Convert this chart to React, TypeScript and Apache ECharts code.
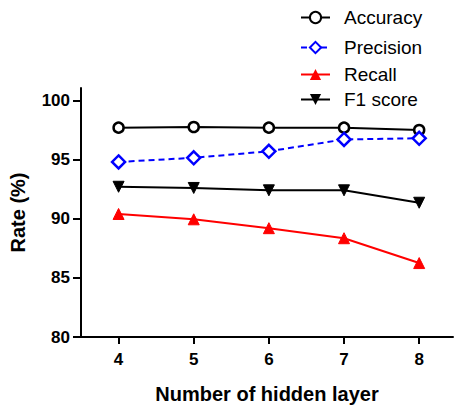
import React, { useEffect, useRef } from "react";
import * as echarts from "echarts";

const layers = [4, 5, 6, 7, 8];
const accuracy = [97.7, 97.75, 97.7, 97.7, 97.5];
const precision = [94.8, 95.15, 95.7, 96.7, 96.8];
const recall = [90.4, 89.95, 89.2, 88.35, 86.25];
const f1 = [92.7, 92.6, 92.4, 92.4, 91.35];
const yTicks = [80, 85, 90, 95, 100];
const seriesNames = ["Accuracy", "Precision", "Recall", "F1 score"];

const font = "Liberation Sans, Arial, sans-serif";

export default function App() {
  const ref = useRef<HTMLDivElement>(null);
  useEffect(() => {
    if (!ref.current) return;
    const chart = echarts.init(ref.current, undefined, { renderer: "svg" });
    const pts = (arr: number[]) => layers.map((x, i) => [x, arr[i]]);
    const legendCenters = [18, 48, 75, 100];
    const legends = seriesNames.map((n, i) => ({
      orient: "vertical",
      left: 300,
      top: legendCenters[i] - 10,
      padding: 0,
      itemWidth: 29,
      itemHeight: 14,
      selectedMode: false,
      textStyle: { fontFamily: font, fontSize: 19, color: "#000", padding: [0, 0, 0, 9] },
      data: [n],
    }));
    chart.setOption({
      animation: false,
      textStyle: { fontFamily: font, color: "#000" },
      legend: legends,
      grid: { left: 80, right: 4, top: 88, bottom: 71, containLabel: false },
      xAxis: {
        type: "value",
        min: 3.5,
        max: 8.45,
        name: "Number of hidden layer",
        nameLocation: "middle",
        nameGap: 47,
        nameTextStyle: { fontFamily: font, fontSize: 20, fontWeight: "bold", color: "#000" },
        axisLine: { show: true, lineStyle: { color: "#000", width: 2 } },
        axisTick: { show: true, length: 7, inside: false, lineStyle: { color: "#000", width: 2 }, customValues: layers },
        axisLabel: { fontFamily: font, fontSize: 17, fontWeight: "bold", color: "#000", margin: 14, customValues: layers },
        splitLine: { show: false },
      },
      yAxis: {
        type: "value",
        min: 80,
        max: 101.05,
        name: "Rate (%)",
        nameLocation: "middle",
        nameGap: 53,
        nameRotate: 90,
        nameTextStyle: { fontFamily: font, fontSize: 20, fontWeight: "bold", color: "#000" },
        axisLine: { show: true, lineStyle: { color: "#000", width: 2 } },
        axisTick: { show: true, length: 8, lineStyle: { color: "#000", width: 2 }, customValues: yTicks },
        axisLabel: { fontFamily: font, fontSize: 17, fontWeight: "bold", color: "#000", margin: 11, customValues: yTicks },
        splitLine: { show: false },
      },
      series: [
        {
          name: "Accuracy",
          type: "line",
          data: pts(accuracy),
          symbol: "circle",
          symbolSize: 10,
          itemStyle: { color: "#fff", borderColor: "#000", borderWidth: 2.5 },
          lineStyle: { color: "#000", width: 2 },
        },
        {
          name: "Precision",
          type: "line",
          data: pts(precision),
          symbol: "diamond",
          symbolSize: 13,
          itemStyle: { color: "#fff", borderColor: "#0000ff", borderWidth: 2.5 },
          lineStyle: { color: "#0000ff", width: 2, type: [6, 4] },
        },
        {
          name: "Recall",
          type: "line",
          data: pts(recall),
          symbol: "triangle",
          symbolSize: 11,
          itemStyle: { color: "#ff0000", borderColor: "#ff0000" },
          lineStyle: { color: "#ff0000", width: 2 },
        },
        {
          name: "F1 score",
          type: "line",
          data: pts(f1),
          symbol: "triangle",
          symbolRotate: 180,
          symbolSize: 11,
          itemStyle: { color: "#000", borderColor: "#000" },
          lineStyle: { color: "#000", width: 2 },
        },
      ],
    });
    return () => chart.dispose();
  }, []);
  return <div ref={ref} style={{ width: 457, height: 409, position: "absolute", left: 0, top: 0 }} />;
}
